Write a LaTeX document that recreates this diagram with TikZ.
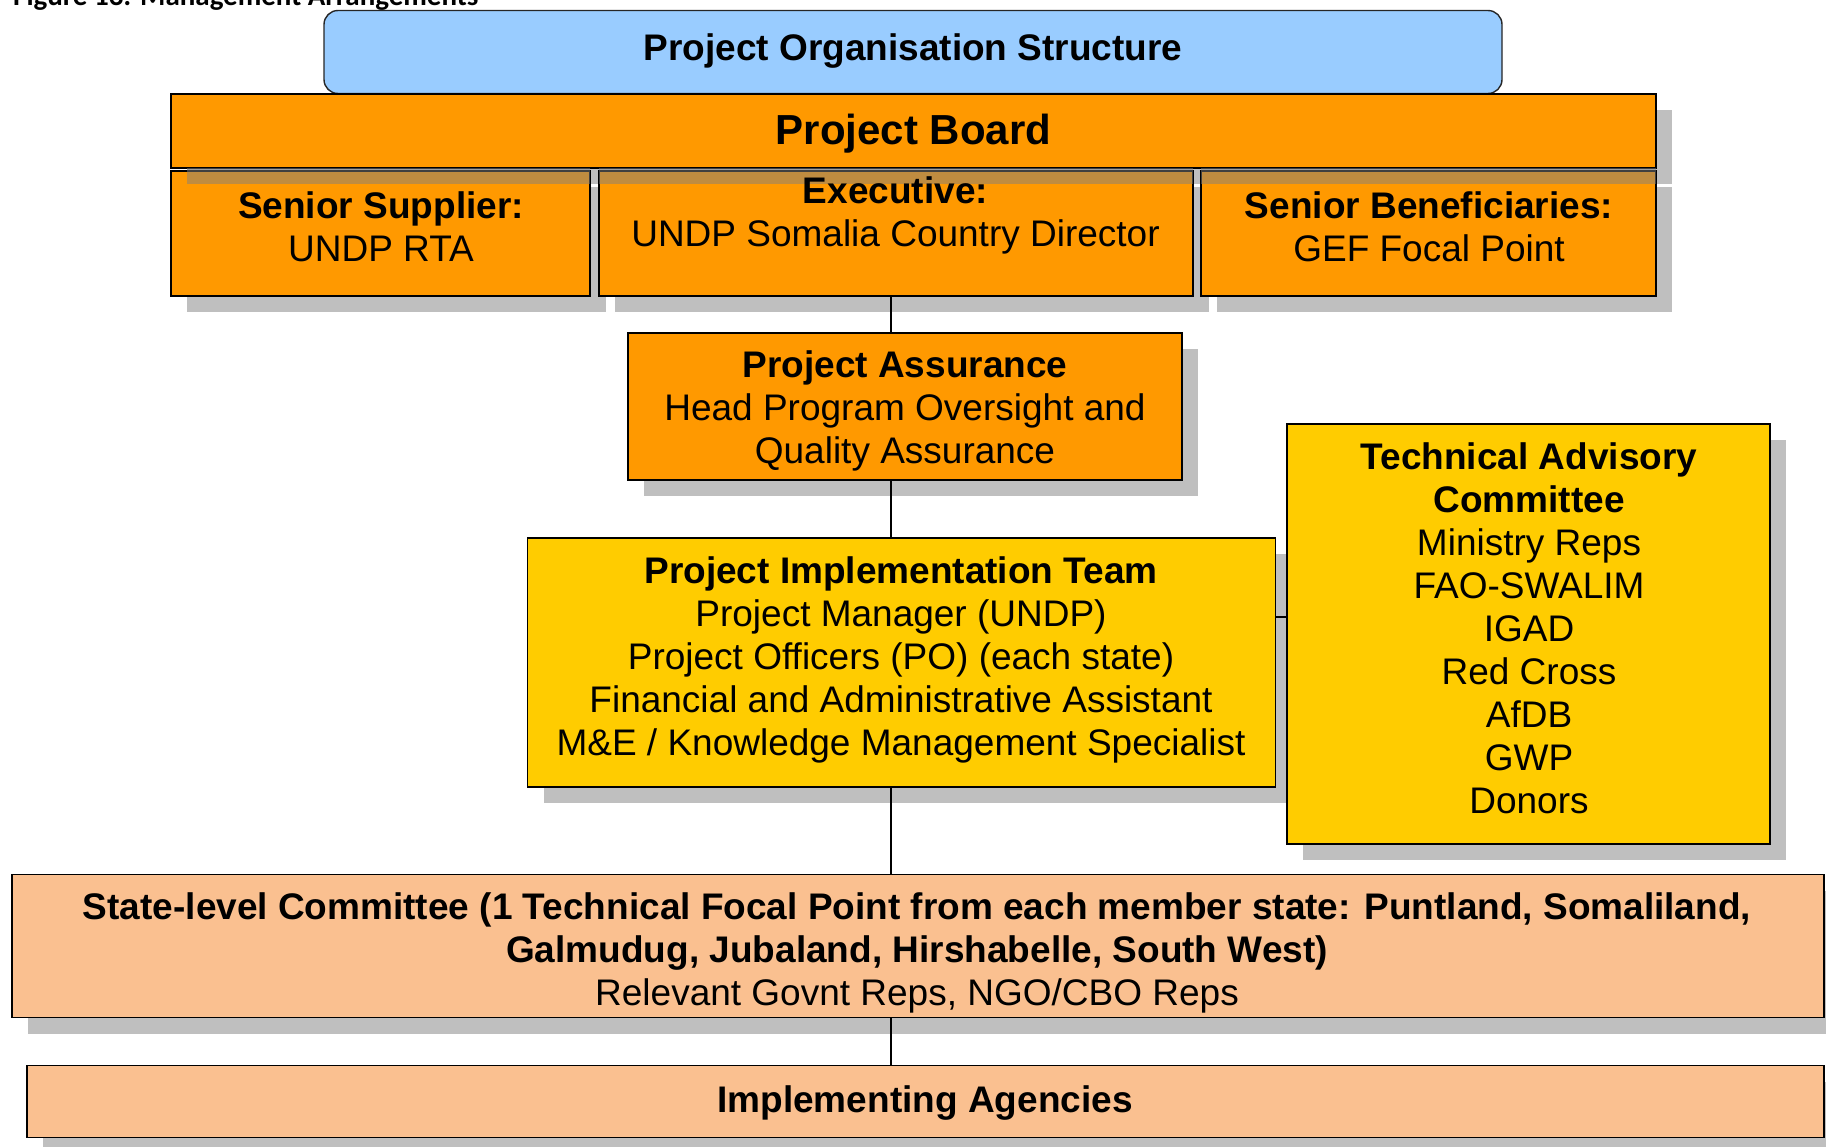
\documentclass[tikz,border=0pt]{standalone}
\usepackage{fontspec}
\setmainfont{Liberation Sans}
\newfontfamily\capfont{Carlito}
\usetikzlibrary{calc}

\definecolor{boardorange}{HTML}{FF9900}
\definecolor{teamyellow}{HTML}{FFCC00}
\definecolor{statepeach}{HTML}{FAC090}
\definecolor{titleblue}{HTML}{99CCFF}
\definecolor{shadowgray}{HTML}{BFBFBF}

\pgfdeclarelayer{shadow}
\pgfdeclarelayer{links}
\pgfsetlayers{shadow,links,main}

\tikzset{
  box/.style={draw=black, line width=1.8pt, rectangle, inner sep=0pt, outer sep=0pt, anchor=north west},
  txt/.style={align=center, inner sep=0pt, text=black, font=\fontsize{37}{43}\selectfont},
  link/.style={draw=black, line width=1.3pt},
  shade box/.style={fill=shadowgray},
}

\begin{document}
\begin{tikzpicture}[x=1pt, y=-1pt]
\useasboundingbox (0,0) rectangle (1826,1146);

% caption line, cut by the top edge of the page
\begin{scope}
  \clip (0,0) rectangle (1826,1146);
  \node[anchor=base west, inner sep=0pt, font=\capfont\bfseries\fontsize{29}{33}\selectfont] (caption) at (13,5) {Figure 13: Management Arrangements};
\end{scope}

% boxes
\node[box, draw=black!85, line width=1.4pt, rounded corners=14pt, fill=titleblue, minimum width=1178pt, minimum height=83pt] (title) at (324,10.5) {};
\node[box, fill=boardorange, minimum width=1485pt, minimum height=74pt] (board) at (171,94) {};
\node[box, fill=boardorange, minimum width=419pt, minimum height=125pt] (supplier) at (171,171) {};
\node[box, fill=boardorange, minimum width=594pt, minimum height=125pt] (exec) at (599,171) {};
\node[box, fill=boardorange, minimum width=455pt, minimum height=125pt] (benef) at (1201,171) {};
\node[box, fill=boardorange, minimum width=554pt, minimum height=147pt] (assurance) at (628,333) {};
\node[box, fill=teamyellow, minimum width=748pt, minimum height=249pt] (team) at (527.5,538) {};
\node[box, fill=teamyellow, minimum width=483pt, minimum height=420pt] (advisory) at (1287,424) {};
\node[box, fill=statepeach, minimum width=1812pt, minimum height=143pt] (state) at (11.6,874.5) {};
\node[box, fill=statepeach, minimum width=1797pt, minimum height=72pt] (agencies) at (27,1065.5) {};

% drop shadows
\begin{pgfonlayer}{shadow}
  \foreach \b in {board,supplier,exec,benef,assurance,team,advisory,state,agencies}{
    \fill[shade box] ($(\b.north west)+(16,16)$) rectangle ($(\b.south east)+(16,16)$);
  }
\end{pgfonlayer}

% the board's shadow falls over the row below it
\fill[gray, opacity=0.5] ($(supplier.north west |- board.south)+(16,0)$) rectangle ($(supplier.north east |- board.south)+(0,16)$);
\foreach \b in {exec,benef}{
  \fill[gray, opacity=0.5] (\b.north west |- board.south) rectangle ($(\b.north east |- board.south)+(0,16)$);
}

% connectors
\coordinate (spine) at (891,0);
\coordinate (rung) at (0,617);
\begin{pgfonlayer}{links}
  \draw[link] (spine |- exec.south) -- (spine |- agencies.north);
  \draw[link] (team.east |- rung) -- (advisory.west |- rung);
\end{pgfonlayer}

% texts
\node[txt, font=\bfseries\fontsize{37}{43}\selectfont] (title-t) at (913,51.2) {Project Organisation Structure};
\node[txt, font=\bfseries\fontsize{42}{48}\selectfont] (board-t) at (913.5,134) {Project Board};
\node[txt] (supplier-t) at (381,226.5) {\textbf{Senior Supplier:}\\UNDP RTA};
\node[txt] (exec-t) at (895.5,215) {\textbf{Executive:}\\UNDP Somalia Country Director};
\node[txt] (benef-t) at (1429,226.5) {\textbf{Senior Beneficiaries:}\\GEF Focal Point};
\node[txt] (assurance-t) at (905,411.2) {\textbf{Project Assurance}\\Head Program Oversight and\\Quality Assurance};
\node[txt] (team-t) at (901,660.3) {\textbf{Project Implementation Team}\\Project Manager (UNDP)\\Project Officers (PO) (each state)\\Financial and Administrative Assistant\\M\&E / Knowledge Management Specialist};
\node[txt] (advisory-t) at (1529,628) {\textbf{Technical Advisory}\\\textbf{Committee}\\Ministry Reps\\FAO-SWALIM\\IGAD\\Red Cross\\AfDB\\GWP\\Donors};
\node[txt] (state-t) at (917,953.2) {\textbf{State-level Committee (1 Technical Focal Point from each member state: Puntland, Somaliland,}\\\textbf{Galmudug, Jubaland, Hirshabelle, South West)}\\Relevant Govnt Reps, NGO/CBO Reps};
\node[txt, font=\bfseries\fontsize{37}{43}\selectfont] (agencies-t) at (925,1102.8) {Implementing Agencies};
\end{tikzpicture}
\end{document}
